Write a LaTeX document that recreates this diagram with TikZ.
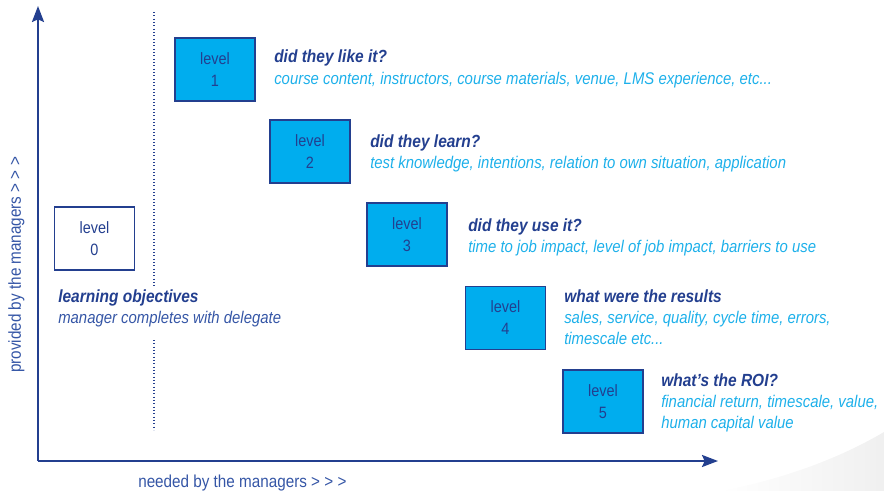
\documentclass[tikz,border=0pt]{standalone}
\usepackage{fontspec}
\setmainfont[FakeStretch=0.88]{Liberation Sans}
\usetikzlibrary{arrows.meta}

\definecolor{navy}{HTML}{233F8F}
\definecolor{skytxt}{HTML}{1DB0EA}
\definecolor{boxfill}{HTML}{00ADEE}
\definecolor{axistxt}{HTML}{3556A6}

\tikzset{
  levelbox/.style={draw=navy, fill=boxfill, line width=1.1pt, minimum width=60pt, minimum height=47pt,
    inner sep=0pt, align=center, text=navy, font=\fontsize{12.3}{16.5}\selectfont},
  zerobox/.style={levelbox, fill=white},
  askline/.style={anchor=base west, inner sep=0pt, text=navy, font=\bfseries\itshape\fontsize{13.2}{16.5}\selectfont},
  detailline/.style={anchor=base west, inner sep=0pt, text=skytxt, align=left, font=\itshape\fontsize{12.7}{16.5}\selectfont},
  axislabel/.style={anchor=base west, inner sep=0pt, text=axistxt, font=\fontsize{13}{14}\selectfont},
  axisline/.style={draw=navy, line width=1.7pt, -{Stealth[length=12pt,width=9pt,inset=2pt]}}
}

\begin{document}
\begin{tikzpicture}[x=0.75pt,y=0.75pt,yscale=-1,xscale=1]
\useasboundingbox (0,0) rectangle (884,491);

%Shape: swoosh bottom right
\shade [left color=white, right color=gray!12] (720,491) .. controls (790,478) and (845,455) .. (884,432) -- (884,491) -- cycle ;

%Axes
\coordinate (origin) at (38,461);
\coordinate (ytip) at (38,6);
\coordinate (xtip) at (718,461);
\draw [axisline] (origin) -- (ytip) ;
\draw [axisline] (origin) -- (xtip) ;

%Dotted divider
\draw [navy, line width=0.8pt, dash pattern=on 0.8pt off 1.7pt] (154,12) -- (154,287) ;
\draw [navy, line width=0.8pt, dash pattern=on 0.8pt off 1.7pt] (154,340) -- (154,430) ;

%Level boxes
\node [zerobox] (lvl0) at (94.5,238.5) {level\\0};
\node [levelbox] (lvl1) at (215,69.5) {level\\1};
\node [levelbox] (lvl2) at (310,151.5) {level\\2};
\node [levelbox] (lvl3) at (407,234.5) {level\\3};
\node [levelbox] (lvl4) at (505.5,318) {level\\4};
\node [levelbox] (lvl5) at (603,401.5) {level\\5};

% Text Node
\node [askline] (ask0) at (58,302) {learning objectives};
\node [detailline, text=axistxt] (det0) at (58,323) {manager completes with delegate};
% Text Node
\node [askline] (ask1) at (274,63) {did they like it?};
\node [detailline] (det1) at (274,85) {course content, instructors, course materials, venue, LMS experience, etc...};
% Text Node
\node [askline] (ask2) at (370,148) {did they learn?};
\node [detailline] (det2) at (370,169) {test knowledge, intentions, relation to own situation, application};
% Text Node
\node [askline] (ask3) at (468,232) {did they use it?};
\node [detailline] (det3) at (468,253) {time to job impact, level of job impact, barriers to use};
% Text Node
\node [askline] (ask4) at (564,302) {what were the results};
\node [detailline] (det4a) at (564,323) {sales, service, quality, cycle time, errors,};
\node [detailline] (det4b) at (564,344) {timescale etc...};
% Text Node
\node [askline] (ask5) at (661,386) {what’s the ROI?};
\node [detailline] (det5a) at (661,407) {financial return, timescale, value,};
\node [detailline] (det5b) at (661,428) {human capital value};

%Axis labels
\node [axislabel, rotate=90] (ylab) at (21,373) {provided by the managers > > >};
\node [axislabel] (xlab) at (138,487) {needed by the managers > > >};
\end{tikzpicture}
\end{document}
